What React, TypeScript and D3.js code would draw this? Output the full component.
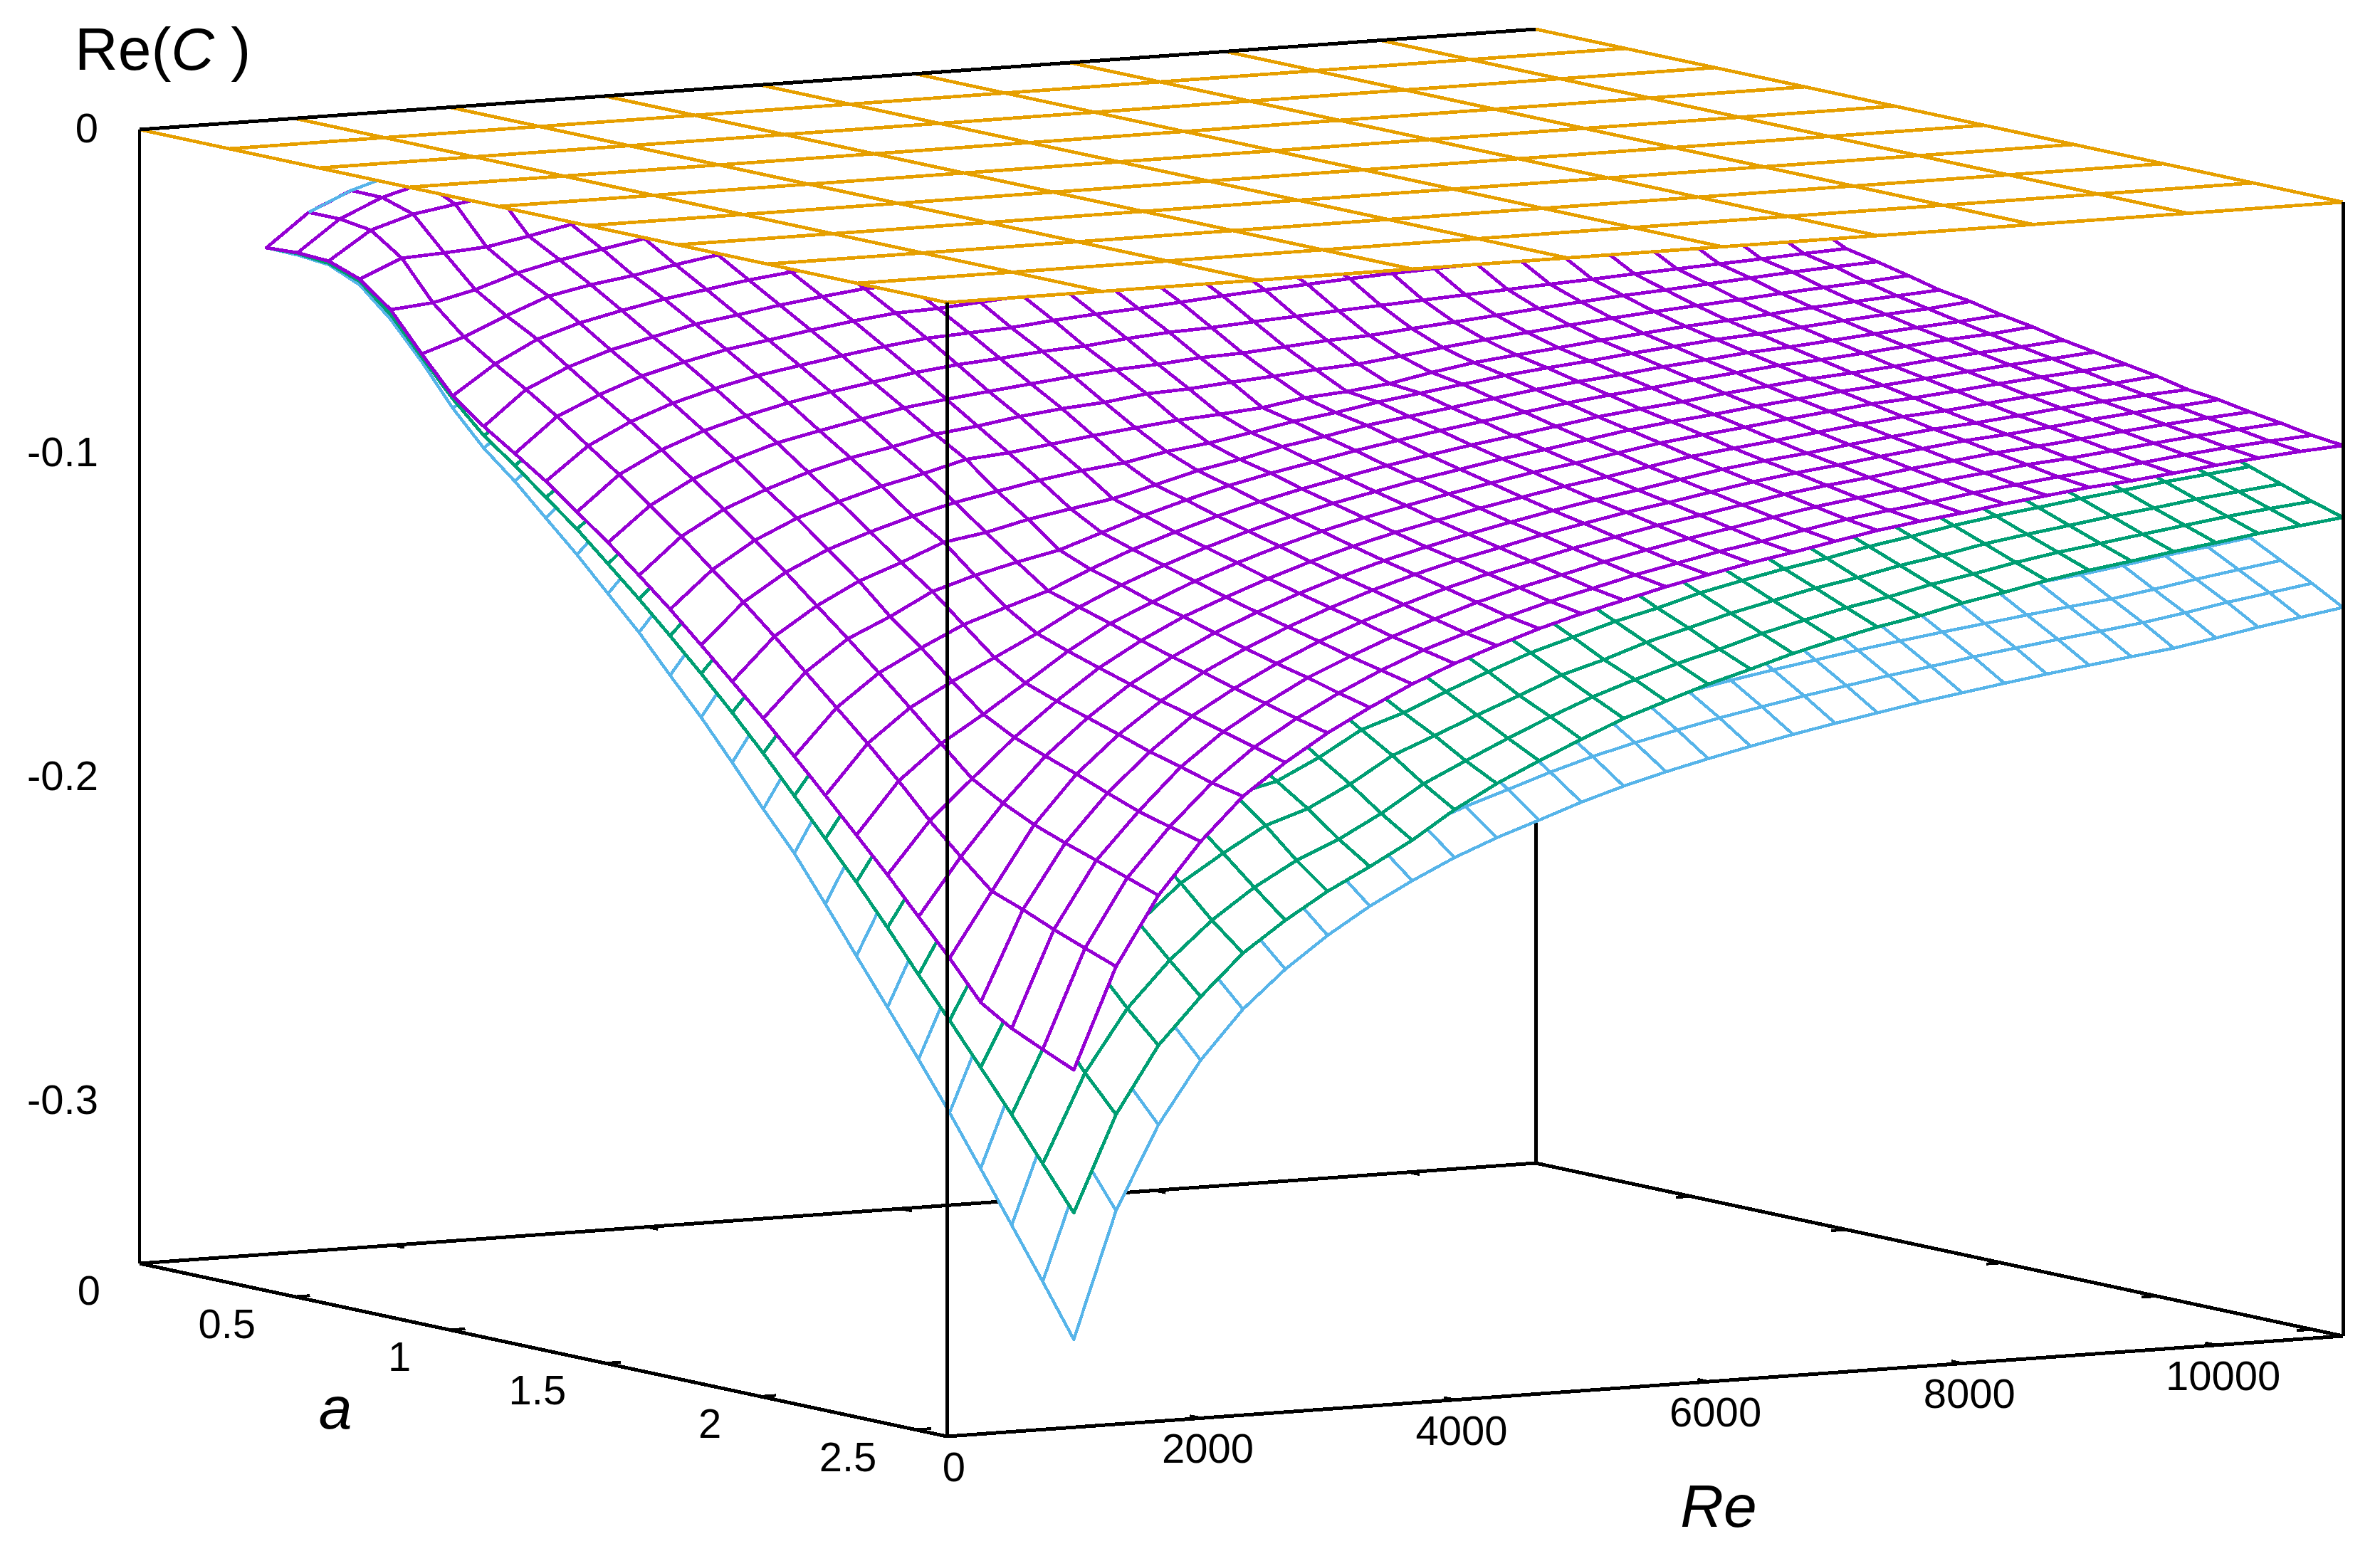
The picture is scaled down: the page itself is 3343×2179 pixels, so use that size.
import { useRef, useEffect } from 'react';
import * as d3 from 'd3';

const width = 3343;
const height = 2179;

// grid of the surfaces
const reGrid = [1000, 1333, 1667, 2000, 2333, 2667, 3000, 3333, 3667, 4000, 4333, 4667, 5000, 5333, 5667, 6000, 6333, 6667, 7000, 7333, 7667, 8000, 8333, 8667, 9000, 9333, 9667, 10000, 10333, 10667, 11000];
const aGrid = [0, 0.1, 0.2, 0.3, 0.4, 0.5, 0.6, 0.7, 0.8, 0.9, 1, 1.1, 1.2, 1.3, 1.4, 1.5, 1.6, 1.7, 1.8, 1.9, 2, 2.1, 2.2, 2.3, 2.4, 2.5, 2.6];

// -Re(C) x 10^4, one row per Re. Rows are read from a = 2.6 backwards, so a short
// row just leaves out the low a part which is hidden in the picture.
const purpleRows = [
  [393,388,393,428,502,618,727,801,864,929,1003,1077,1158,1242,1332,1424,1517,1614,1714,1816,1918,2027,2134,2250,2310,2354,2397],
  [293,293,307,373,490,575,638,696,759,829,897,972,1047,1129,1209,1294,1384,1473,1563,1658,1760,1851,1937,1973,2014,2051,2087],
  [235,236,267,366,459,519,571,636,701,764,830,900,973,1048,1126,1209,1290,1375,1462,1552,1640,1695,1741,1777,1810,1843,1877],
  [200,246,357,417,468,530,593,653,716,781,848,921,989,1065,1142,1231,1307,1390,1471,1522,1559,1594,1632,1668,1695,1720],
  [225,333,386,442,501,562,619,680,744,807,877,947,1020,1094,1163,1245,1326,1384,1419,1450,1481,1514,1540,1569,1590],
  [205,306,362,423,475,532,590,650,713,779,842,909,981,1041,1123,1201,1261,1295,1326,1356,1387,1413,1441,1468,1495],
  [283,339,399,455,513,570,628,689,752,817,879,948,1020,1091,1159,1189,1219,1251,1281,1308,1337,1363,1389,1413],
  [320,378,435,492,549,607,668,727,788,845,923,989,1063,1102,1130,1162,1187,1216,1244,1270,1293,1320,1344],
  [365,420,475,530,588,648,710,772,834,898,966,1019,1050,1079,1107,1136,1162,1187,1211,1237,1259,1281],
  [405,460,515,572,633,695,752,817,878,944,975,1006,1033,1060,1088,1113,1137,1160,1185,1206,1227],
  [456,510,565,623,681,737,800,863,911,937,966,992,1018,1045,1070,1092,1116,1140,1163,1181],
  [446,500,558,611,667,727,785,838,876,902,931,956,981,1007,1031,1053,1075,1098,1121,1138],
  [436,490,545,604,656,710,771,821,851,873,901,925,949,974,998,1018,1040,1062,1084,1101],
  [427,481,535,590,649,704,762,798,821,848,874,898,921,946,968,989,1010,1032,1053,1069],
  [420,473,527,580,638,693,751,773,799,822,848,871,894,918,940,959,980,1001,1021,1037],
  [412,465,517,575,633,684,730,755,774,800,825,848,870,893,914,933,954,974,994,1009],
  [405,457,507,566,623,673,720,732,756,779,803,825,846,869,890,908,928,948,967,982],
  [398,450,498,559,613,665,705,714,738,760,784,806,827,849,869,887,906,925,945,959],
  [443,490,551,607,650,680,696,719,741,764,785,805,827,846,864,883,901,920,934],
  [436,482,544,595,633,659,678,701,722,744,764,784,805,824,842,860,878,896,910],
  [430,475,537,584,618,645,664,686,707,729,748,768,789,807,824,842,860,878,891],
  [424,470,530,573,605,632,652,674,694,716,735,754,774,793,809,827,844,862,875],
  [418,465,523,561,592,618,638,659,679,700,719,738,758,776,792,809,826,843,856],
  [412,460,516,550,580,606,626,647,666,687,706,724,743,761,777,794,811,827,840],
  [406,455,510,540,569,594,614,634,653,674,692,710,729,747,762,779,795,812,824],
  [400,450,503,532,560,585,606,626,645,665,683,701,720,737,752,768,785,801,813],
  [395,445,497,523,551,575,595,615,634,654,671,689,707,724,739,755,771,787,799],
  [390,440,491,514,541,564,584,604,622,641,659,676,694,710,725,741,757,772,784],
  [385,435,485,505,532,555,574,594,611,631,648,665,682,699,713,729,744,759,771],
  [380,430,478,498,524,547,566,585,603,622,638,655,673,689,703,718,733,749,760],
  [375,425,472,492,514,538,553,574,590,611,627,644,660,681,692,709,723,740,751],
];

const greenRows = [
  [393,390,400,435,517,628,736,829,901,979,1056,1143,1231,1324,1420,1520,1625,1736,1848,1961,2081,2206,2326,2451,2576,2707,2838],
  [293,295,310,380,500,585,660,743,806,878,950,1025,1104,1188,1272,1364,1458,1557,1656,1758,1875,1977,2086,2198,2310,2436,2544],
  [1767,1860,1954,2048,2141,2246,2340],
  [1660,1748,1836,1924,2012,2107,2199],
  [1566,1649,1732,1815,1899,1993,2074],
  [1496,1576,1655,1734,1816,1901,1982],
  [1436,1512,1588,1664,1740,1827,1902],
  [1431,1495,1565,1633,1697,1771,1835],
  [1375,1437,1504,1569,1631,1701,1763],
  [1309,1368,1431,1493,1552,1619,1678],
  [1290,1343,1396,1450,1500,1557,1607],
  [1241,1292,1343,1394,1446,1497,1546],
  [1196,1245,1294,1342,1395,1440,1489],
  [1152,1199,1246,1293,1341,1388,1434],
  [1116,1162,1208,1254,1303,1344,1390],
  [1082,1126,1171,1215,1259,1304,1347],
  [1052,1095,1138,1183,1224,1269,1310],
  [1021,1063,1104,1146,1188,1230,1271],
  [994,1035,1076,1117,1158,1198,1238],
  [970,1010,1050,1090,1129,1169,1208],
  [950,989,1028,1067,1106,1145,1183],
  [926,964,1002,1040,1078,1116,1153],
  [907,944,981,1018,1056,1093,1129],
  [885,921,958,994,1030,1067,1102],
  [867,903,939,974,1010,1045,1080],
  [852,887,922,957,992,1027,1061],
  [836,870,905,939,973,1008,1041],
  [821,855,889,923,957,990,1023],
  [806,839,872,906,939,972,1004],
  [794,827,859,892,925,957,989],
  [781,813,846,878,911,944,973],
];

const blueRows = [
  [393,395,404,446,532,642,765,868,950,1043,1135,1235,1334,1446,1555,1674,1797,1913,2049,2189,2327,2467,2611,2763,2917,3071,3229],
  [293,296,312,385,505,590,673,764,836,918,999,1087,1174,1272,1368,1473,1581,1683,1803,1930,2048,2171,2298,2431,2567,2702,2841],
  [2164,2267,2370,2474,2585],
  [2005,2100,2196,2292,2395],
  [1881,1971,2060,2150,2247],
  [1785,1871,1956,2041,2133],
  [1706,1787,1868,1950,2038],
  [1638,1716,1795,1873,1957],
  [1580,1656,1731,1807,1888],
  [1528,1601,1674,1747,1826],
  [1485,1556,1627,1698,1774],
  [1447,1516,1585,1655,1729],
  [1409,1476,1543,1611,1683],
  [1375,1441,1507,1572,1643],
  [1346,1410,1475,1539,1608],
  [1320,1383,1446,1509,1577],
  [1296,1358,1420,1481,1548],
  [1273,1334,1395,1456,1521],
  [1252,1312,1372,1432,1496],
  [1233,1292,1351,1410,1473],
  [1214,1272,1330,1388,1450],
  [1197,1254,1311,1369,1430],
  [1180,1237,1293,1349,1410],
  [1164,1220,1276,1331,1391],
  [1149,1204,1259,1314,1373],
  [1135,1189,1243,1298,1356],
  [1121,1174,1228,1281,1339],
  [1102,1155,1208,1260,1317],
  [1082,1134,1186,1237,1293],
  [1065,1116,1166,1217,1272],
  [1047,1097,1147,1197,1251],
];

// bit of the blue surface that pokes out above the purple one at a = 0
const blueEdgeRe = [1333, 1667, 2000];
const blueEdgeZ = [293, 235, 195];

const planeRe = [0, 1222, 2444, 3667, 4889, 6111, 7333, 8556, 9778, 11000];
const planeA = [0, 0.289, 0.578, 0.867, 1.156, 1.444, 1.733, 2.022, 2.311, 2.6];

const reTicks = [2000, 4000, 6000, 8000, 10000];
const aTicks = [0.5, 1, 1.5, 2, 2.5];
const zTicks = [0, -0.1, -0.2, -0.3];

const PURPLE = '#9400D3';
const GREEN = '#009E73';
const BLUE = '#56B4E9';
const ORANGE = '#E69F00';
const FONT = '"Liberation Sans", Arial, sans-serif';

export default function App() {
  const svgRef = useRef<SVGSVGElement>(null);

  useEffect(() => {
    if (!svgRef.current) return;
    const svg = d3.select(svgRef.current);
    svg.selectAll('*').remove();

    const reX = d3.scaleLinear().domain([0, 11000]).range([0, 1961]);
    const reY = d3.scaleLinear().domain([0, 11000]).range([0, -141]);
    const aX = d3.scaleLinear().domain([0, 2.6]).range([0, 1134]);
    const aY = d3.scaleLinear().domain([0, 2.6]).range([0, 243]);
    const zY = d3.scaleLinear().domain([-0.35, 0]).range([1593, 0]);

    const project = (re: number, a: number, z: number): [number, number] => [
      196 + reX(re) + aX(a),
      182 + reY(re) + aY(a) + zY(z),
    ];

    const closed = d3.line().curve(d3.curveLinearClosed);
    const open = d3.line();

    const edge = (pts: [number, number][], color = '#000', w = 5) =>
      svg.append('path')
        .attr('d', open(pts))
        .attr('fill', 'none')
        .attr('stroke', color)
        .attr('stroke-width', w)
        .attr('stroke-linejoin', 'round')
        .attr('shape-rendering', 'crispEdges');

    const zMin = -0.35;

    // back of the box
    edge([project(0, 0, zMin), project(11000, 0, zMin), project(11000, 2.6, zMin)]);
    edge([project(11000, 0, zMin), project(11000, 0, 0)]);
    reTicks.forEach((t) => edge([project(t, 0, zMin), project(t, 0.035, zMin)], '#000', 4));
    aTicks.forEach((t) => edge([project(11000, t, zMin), project(10880, t, zMin)], '#000', 4));

    // surfaces, painted cell by cell from the back corner to the front corner
    const surfaces = [
      { rows: blueRows, color: BLUE, w: 4.4 },
      { rows: greenRows, color: GREEN, w: 4.8 },
      { rows: purpleRows, color: PURPLE, w: 4.8 },
    ];
    const value = (rows: number[][], i: number, j: number) => {
      const start = aGrid.length - rows[i].length;
      return j >= start ? rows[i][j - start] : undefined;
    };
    const mesh = svg.append('g');
    for (let j = 0; j < aGrid.length - 1; j++) {
      for (let i = reGrid.length - 2; i >= 0; i--) {
        surfaces.forEach(({ rows, color, w }) => {
          const corners: [number, number][] = [[i, j], [i + 1, j], [i + 1, j + 1], [i, j + 1]];
          const zs = corners.map(([ci, cj]) => value(rows, ci, cj));
          if (zs.some((z) => z === undefined)) return;
          const pts = corners.map(([ci, cj], k) => project(reGrid[ci], aGrid[cj], -(zs[k] as number) / 10000));
          mesh.append('path')
            .attr('d', closed(pts))
            .attr('fill', '#fff')
            .attr('stroke', color)
            .attr('stroke-width', w)
            .attr('stroke-linejoin', 'round')
            .attr('shape-rendering', 'crispEdges');
        });
      }
    }

    edge(blueEdgeRe.map((re, k) => project(re, 0, -blueEdgeZ[k] / 10000)), BLUE, 4.4);

    // orange plane at z = 0
    svg.append('path')
      .attr('d', closed([project(0, 0, 0), project(11000, 0, 0), project(11000, 2.6, 0), project(0, 2.6, 0)]))
      .attr('fill', '#fff');
    planeRe.forEach((re) => edge([project(re, 0, 0), project(re, 2.6, 0)], ORANGE, 4.8));
    planeA.forEach((a) => edge([project(0, a, 0), project(11000, a, 0)], ORANGE, 4.8));

    // front of the box
    edge([project(0, 0, 0), project(0, 0, zMin)], '#000', 4.5);
    edge([project(11000, 2.6, 0), project(11000, 2.6, zMin)]);
    edge([project(0, 2.6, 0), project(0, 2.6, zMin)]);
    edge([project(0, 0, zMin), project(0, 2.6, zMin), project(11000, 2.6, zMin)]);
    edge([project(0, 0, 0), project(11000, 0, 0)]);
    reTicks.forEach((t) => edge([project(t, 2.6, zMin), project(t, 2.565, zMin)], '#000', 4));
    aTicks.forEach((t) => edge([project(0, t, zMin), project(120, t, zMin)], '#000', 4));

    const label = (x: number, y: number, text: string, anchor: string, size = 58) =>
      svg.append('text')
        .attr('x', x)
        .attr('y', y)
        .attr('text-anchor', anchor)
        .attr('font-family', FONT)
        .attr('font-size', size)
        .attr('fill', '#000')
        .text(text);

    zTicks.forEach((t) => {
      const [, py] = project(0, 0, t);
      label(138, py + 18, t === 0 ? '0' : t.toFixed(1), 'end');
    });
    [0, ...aTicks].forEach((t) => {
      const [px, py] = project(0, t, zMin);
      label(px - 55, py + 58, String(t), 'end');
    });
    [0, ...reTicks].forEach((t) => {
      const [px, py] = project(t, 2.6, zMin);
      label(px + 10, py + 63, String(t), 'middle');
    });

    label(471, 2007, 'a', 'middle', 84).attr('font-style', 'italic');
    label(2414, 2145, 'Re', 'middle', 84).attr('font-style', 'italic');

    const title = label(105, 98, 'Re(', 'start', 84);
    title.append('tspan').attr('font-style', 'italic').text('C');
    title.append('tspan').text(' )');
  }, []);

  return (
    <svg
      ref={svgRef}
      width={width}
      height={height}
      viewBox={`0 0 ${width} ${height}`}
      style={{ position: 'absolute', left: 0, top: 0, background: '#fff' }}
    />
  );
}
